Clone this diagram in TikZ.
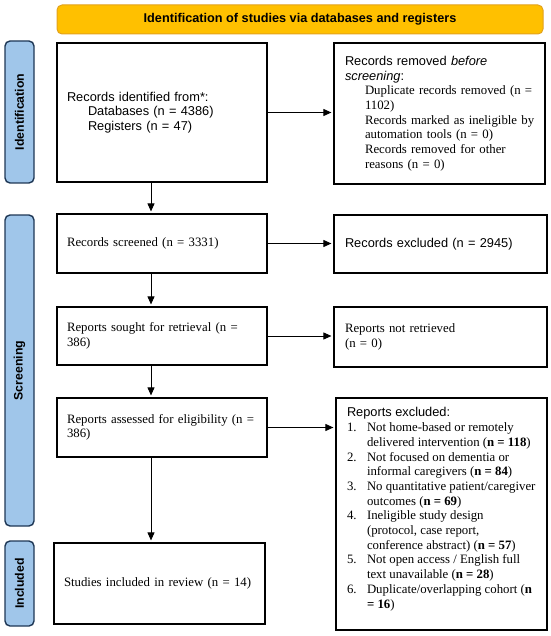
\documentclass[tikz,border=0pt]{standalone}
\usepackage{fontspec}
\setmainfont{Liberation Serif}
\setsansfont{Liberation Sans}
\usetikzlibrary{arrows.meta}
\definecolor{bannerfill}{RGB}{255,192,0}
\definecolor{bannerdraw}{RGB}{226,162,28}
\definecolor{sidefill}{RGB}{160,198,234}
\definecolor{sidedraw}{RGB}{30,55,85}
\newcommand\mysz{\fontsize{12.8}{14.7}\selectfont}
\begin{document}
\begin{tikzpicture}[x=1pt,y=-1pt,
  box/.style={draw=black, line width=1.2pt, align=left, inner xsep=10pt, inner ysep=0pt, font=\mysz},
  banner/.style={draw=bannerdraw, fill=bannerfill, line width=1pt, rounded corners=5pt, font=\sffamily\bfseries\fontsize{12.7}{14}\selectfont, inner sep=0pt},
  side/.style={draw=sidedraw, fill=sidefill, line width=1.4pt, rounded corners=5pt, rotate=90, font=\sffamily\bfseries\fontsize{12.3}{14}\selectfont, inner sep=0pt, minimum height=29pt},
  arr/.style={line width=0.9pt, -{Triangle[length=8pt,width=7pt]}, shorten >=2pt}]
\useasboundingbox (0,0) rectangle (550,636);
% banner
\node[banner, minimum width=486pt, minimum height=29pt] (title) at (300,19.5) {Identification of studies via databases and registers};
% side labels
\node[side, minimum width=142pt] (sideid) at (19.5,112) {Identification};
\node[side, minimum width=311pt] (sidescr) at (19.5,370.5) {Screening};
\node[side, minimum width=85pt] (sideinc) at (19.5,583.5) {Included};
% left column
\node[box, text width=190pt, minimum height=139pt] (ident) at (162,112.5)
  {{\sffamily Records identified from*:}\\
   \hspace*{21pt}{\sffamily Databases (n = 4386)}\\
   \hspace*{21pt}{\sffamily Registers (n = 47)}};
\node[box, text width=190pt, minimum height=59pt] (screened) at (162,243.5)
  {Records screened (n = 3331)};
\node[box, text width=190pt, minimum height=58pt] (sought) at (162,336)
  {\mbox{Reports sought for retrieval (n =}\\386)};
\node[box, text width=190pt, minimum height=59pt] (assessed) at (162,427.5)
  {\mbox{Reports assessed for eligibility (n =}\\386)};
\node[box, text width=191pt, minimum height=81pt] (incl) at (159.5,583.5)
  {Studies included in review (n = 14)};
% right column
\node[box, text width=189pt, inner xsep=11pt, minimum height=141pt] (removed) at (439.5,113.5)
  {{\sffamily Records removed \textit{before}}\\
   {\sffamily\textit{screening}:}\\
   \mbox{\hspace*{20pt}Duplicate records removed (n =}\\
   \mbox{\hspace*{20pt}1102)}\\
   \mbox{\hspace*{20pt}Records marked as ineligible by}\\
   \mbox{\hspace*{20pt}automation tools (n = 0)}\\
   \mbox{\hspace*{20pt}Records removed for other}\\
   \mbox{\hspace*{20pt}reasons (n = 0)}};
\node[box, text width=191pt, inner xsep=11pt, minimum height=58pt] (excluded) at (440.5,244)
  {{\sffamily Records excluded (n = 2945)}};
\node[box, text width=191pt, inner xsep=11pt, minimum height=60pt] (notret) at (440.5,337)
  {Reports not retrieved\\(n = 0)};
\node[box, inner xsep=11pt, inner ysep=8.7pt] (excl) at (441.5,514)
  {\begin{minipage}[t][214.6pt][t]{189pt}\raggedright\strut
   {\sffamily Reports excluded:}\\
   \mbox{\makebox[20pt][l]{1.}Not home-based or remotely}\\
   \mbox{\hspace*{20pt}delivered intervention (\textbf{n = 118})}\\
   \mbox{\makebox[20pt][l]{2.}Not focused on dementia or}\\
   \mbox{\hspace*{20pt}informal caregivers (\textbf{n = 84})}\\
   \mbox{\makebox[20pt][l]{3.}No quantitative patient/caregiver}\\
   \mbox{\hspace*{20pt}outcomes (\textbf{n = 69})}\\
   \mbox{\makebox[20pt][l]{4.}Ineligible study design}\\
   \mbox{\hspace*{20pt}(protocol, case report,}\\
   \mbox{\hspace*{20pt}conference abstract) (\textbf{n = 57})}\\
   \mbox{\makebox[20pt][l]{5.}Not open access / English full}\\
   \mbox{\hspace*{20pt}text unavailable (\textbf{n = 28})}\\
   \mbox{\makebox[20pt][l]{6.}Duplicate/overlapping cohort (\textbf{n}}\\
   \mbox{\hspace*{20pt}\textbf{= 16})}
   \end{minipage}};
% connectors
\coordinate (vx) at (151,0);
\draw[arr] (ident.south -| vx) -- (screened.north -| vx);
\draw[arr] (screened.south -| vx) -- (sought.north -| vx);
\draw[arr] (sought.south -| vx) -- (assessed.north -| vx);
\draw[arr] (assessed.south -| vx) -- (incl.north -| vx);
\draw[arr] (ident.east) -- (ident.east -| removed.west);
\draw[arr] (screened.east) -- (screened.east -| excluded.west);
\draw[arr] (sought.east) -- (sought.east -| notret.west);
\draw[arr] (assessed.east) -- (assessed.east -| excl.west);
\end{tikzpicture}
\end{document}
